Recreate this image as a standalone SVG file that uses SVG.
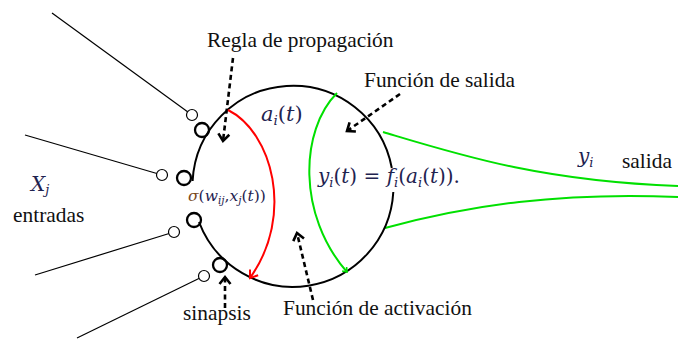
<svg xmlns="http://www.w3.org/2000/svg" width="678" height="339" viewBox="0 0 678 339">
<style>
.t{font-family:'Liberation Serif','Times New Roman',serif;font-size:21.4px;fill:#111}
.m{font-family:'DejaVu Serif','Liberation Serif',serif;fill:#1f2350}
.i{font-style:italic}
.thin{stroke:#000;stroke-width:1.2;fill:none}
.cell{stroke:#000;stroke-width:2;fill:none}
.syn{stroke:#000;stroke-width:2.3;fill:none}
.inp{stroke:#000;stroke-width:1.2;fill:#fff}
.dash{stroke:#000;stroke-width:2.6;fill:none;stroke-dasharray:5 3.5}
.red{stroke:#ff0000;stroke-width:2;fill:none}
.grn{stroke:#00e000;stroke-width:2;fill:none}
</style>
<defs>
<marker id="ab" markerUnits="userSpaceOnUse" markerWidth="14" markerHeight="14" refX="10" refY="7" orient="auto" viewBox="0 0 14 14">
<path d="M3,1.5 L10,7 L3,12.5" fill="none" stroke="#000" stroke-width="2.6"/>
</marker>
<marker id="ar" markerUnits="userSpaceOnUse" markerWidth="14" markerHeight="14" refX="10" refY="7" orient="auto" viewBox="0 0 14 14">
<path d="M3,2 L10,7 L3,12" fill="none" stroke="#ff0000" stroke-width="2"/>
</marker>
<marker id="ag" markerUnits="userSpaceOnUse" markerWidth="10" markerHeight="10" refX="7" refY="5" orient="auto" viewBox="0 0 10 10">
<path d="M3,2 L7,5 L3,8" fill="none" stroke="#00e000" stroke-width="1.6"/>
</marker>
</defs>

<g id="connectors">
<line class="thin" x1="52" y1="13" x2="192" y2="115"/>
<line class="thin" x1="25" y1="135" x2="162" y2="175"/>
<line class="thin" x1="35" y1="275" x2="174" y2="232"/>
<line class="thin" x1="77" y1="338" x2="204" y2="276"/>
<path class="grn" d="M383,132 C460,155 540,181 678,186"/>
<path class="grn" d="M385,228 C470,205 560,192 678,197"/>
<path class="dash" d="M233,58 L223,141" marker-end="url(#ab)"/>
<path class="dash" d="M400,94 L347,131" marker-end="url(#ab)"/>
<path class="dash" d="M313,300 L297,233" marker-end="url(#ab)"/>
<path class="dash" d="M225,308 L225,277" marker-end="url(#ab)"/>
</g>

<g id="neuron">
<path class="cell" d="M199,222 A100.5,100.5 0 0 0 393.3,192"/>
<path class="cell" d="M391.8,168 A100.5,100.5 0 0 0 192.6,181"/>
<path class="red" d="M228,110 C272,132 295,215 250,278" marker-end="url(#ar)"/>
<path class="grn" d="M337,93 C300,130 297,215 347,272" marker-end="url(#ag)"/>
</g>

<g id="synapses">
<circle class="syn" cx="202" cy="130" r="7"/>
<circle class="syn" cx="184" cy="178" r="7"/>
<circle class="syn" cx="194" cy="220" r="7"/>
<circle class="syn" cx="220" cy="265" r="7"/>
</g>

<g id="inputs">
<circle class="inp" cx="192" cy="115" r="5.5"/>
<circle class="inp" cx="162" cy="175" r="5.5"/>
<circle class="inp" cx="174" cy="232" r="5.5"/>
<circle class="inp" cx="204" cy="276" r="5.5"/>
</g>

<g id="labels">
<text class="t" x="207" y="47">Regla de propagación</text>
<text class="t" x="364" y="87">Función de salida</text>
<text class="t" x="283" y="315">Función de activación</text>
<text class="t" x="183" y="320">sinapsis</text>
<text class="t" x="13" y="222">entradas</text>
<text class="m" x="31" y="191" font-size="20"><tspan class="i">X</tspan><tspan class="i" font-size="13" dy="3">j</tspan></text>
<text class="t" x="622" y="168">salida</text>
<text class="m" x="578" y="163" font-size="20"><tspan class="i">y</tspan><tspan class="i" font-size="13" dy="4">i</tspan></text>
<text class="m" x="261" y="121" font-size="21"><tspan class="i">a</tspan><tspan class="i" font-size="13.5" dy="4">i</tspan><tspan dy="-4">(</tspan><tspan class="i">t</tspan>)</text>
<text class="m" x="318" y="183" font-size="20"><tspan class="i">y</tspan><tspan class="i" font-size="13" dy="4">i</tspan><tspan dy="-4">(</tspan><tspan class="i">t</tspan>) = <tspan class="i">f</tspan><tspan class="i" font-size="13" dy="4">i</tspan><tspan dy="-4">(</tspan><tspan class="i">a</tspan><tspan class="i" font-size="13" dy="4">i</tspan><tspan dy="-4">(</tspan><tspan class="i">t</tspan>)).</text>
<text class="m" x="188" y="201" font-size="15.5"><tspan class="i" fill="#7a4a1e">σ</tspan>(<tspan class="i">w</tspan><tspan class="i" font-size="10.5" dy="3">ij</tspan><tspan dy="-3">,</tspan><tspan class="i">x</tspan><tspan class="i" font-size="10.5" dy="3">j</tspan><tspan dy="-3">(</tspan><tspan class="i">t</tspan>))</text>
</g>
</svg>
